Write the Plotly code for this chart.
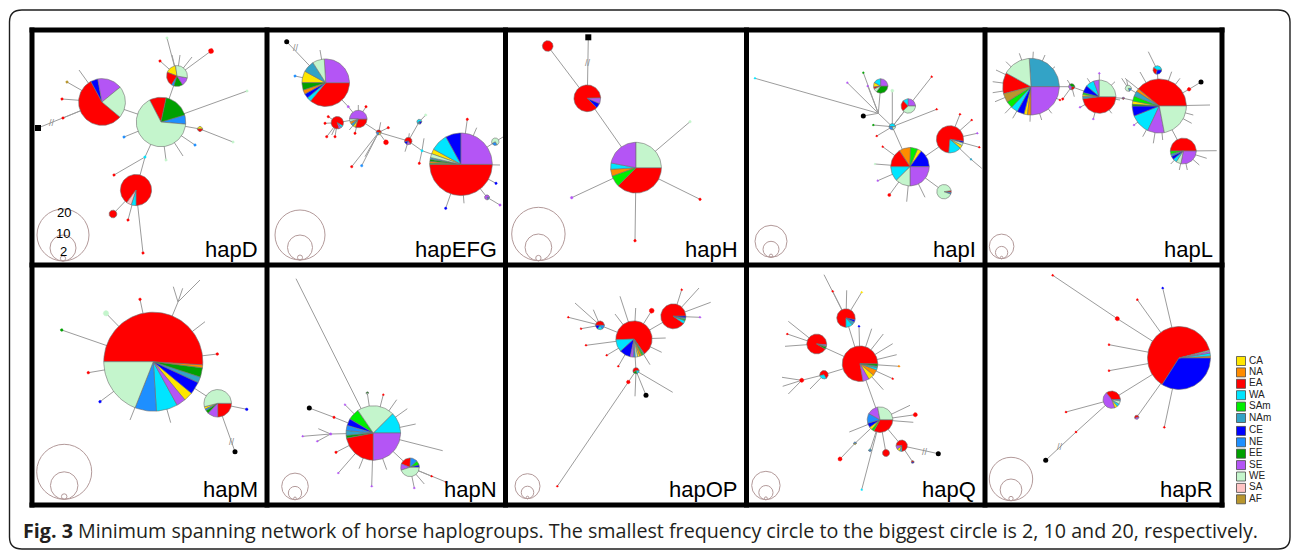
import math
import plotly.graph_objects as go

# ---------------- groups / legend ----------------
GROUPS = ["CA", "NA", "EA", "WA", "SAm", "NAm", "CE", "NE", "EE", "SE", "WE", "SA", "AF"]
GROUP_COLORS = {
    "CA": "#FFE600", "NA": "#FF8C00", "EA": "#FF0000", "WA": "#00E5FF",
    "SAm": "#00EE00", "NAm": "#33A3C6", "CE": "#0000FF", "NE": "#1E8FFF",
    "EE": "#00A000", "SE": "#B455F5", "WE": "#C4F5CC", "SA": "#FFC4C4",
    "AF": "#B8962E",
}
SCALE_FREQS = [20, 10, 2]
CAPTION_BOLD = "Fig. 3"
CAPTION_TEXT = ("Minimum spanning network of horse haplogroups. The smallest frequency circle "
                "to the biggest circle is 2, 10 and 20, respectively.")

# ---------------- network data (layout in figure pixels) ----------------
# node: x, y, frequency, composition "group:percent", start angle of first slice
hapD_nodes = [
    (102, 102, 18, "WE:22 SE:17 CE:5 EA:56", -40),
    (161, 122, 19, "NE:6 EE:17 EA:11 WE:66", -5),
    (177, 76, 8, "WE:30 CA:17 EA:22 NE:4 EE:14 SE:13", -10),
    (136, 190, 12, "EA:90 SA:5 WA:5", 270),
    (113, 214, 3, "EA:100", 0),
    (145, 157, 1, "WA:100", 0),
    (200, 129, 2, "CA:50 EA:50", 0),
]
hapD_edges = [(0, 1), (1, 2), (1, 5), (5, 3), (3, 4), (1, 6)]
hapD_tips = [
    (0, 62, 99, "EA", 1), (0, 67, 82, "AF", 1), (0, 79, 70, "", 0), (0, 63, 118, "EA", 1),
    (5, 114, 175, "EA", 1), (3, 128, 220, "EA", 1), (3, 143, 253, "EA", 1),
    (1, 247, 91, "WE", 1), (6, 233, 142, "WE", 1), (1, 195, 145, "NE", 1), (1, 183, 156, "", 0),
    (1, 166, 160, "WE", 1), (1, 124, 137, "NE", 1),
    (2, 167, 38, "WE", 1), (2, 180, 55, "", 0), (2, 192, 57, "", 0), (2, 211, 51, "EA", 2),
    (2, 160, 61, "EA", 1), (2, 172, 55, "", 0),
]
hapD_outgroup = (38, 128, 0, "square")
hapD_breaks = [(52, 123)]
hapD_scale = (37, 261, 26)

hapEFG_nodes = [
    (325.7, 82.7, 19, "SE:26 WE:8 NAm:8 CA:8 EE:5 NA:3 CE:3 WA:3 EA:36", 0),
    (461, 164.3, 25, "SE:25 CE:8 WA:9 CA:2.5 WE:2 NAm:1 EE:1 NA:1 SAm:0.5 EA:50", 0),
    (337.3, 122.7, 5, "EA:88 SE:6 WA:6", 330),
    (358.3, 119, 7, "SE:50 WE:5 NA:5 NAm:5 CA:5 EA:30", 0),
    (378.7, 132.3, 2, "EA:50 NE:25 CA:25", 0),
    (386, 142.3, 2, "EA:100", 0),
    (408.3, 141, 3, "EA:70 CE:15 SE:15", -60),
    (419.3, 121.7, 2, "WA:60 NAm:20 CE:20", 0),
    (422, 150.7, 1, "WA:100", 0),
    (495.3, 141.7, 3, "WE:75 NE:25", -60),
    (487, 197.3, 2, "SE:80 NE:20", 0),
    (348.3, 106.7, 1, "SE:100", 0),
]
hapEFG_edges = [(0, 11), (11, 3), (2, 3), (3, 4), (4, 5), (4, 6), (6, 7), (6, 8), (8, 1), (1, 9), (1, 10)]
hapEFG_tips = [
    (0, 320, 50, "", 0), (0, 295, 76, "NE", 1),
    (2, 328.3, 116.7, "EA", 1), (2, 325, 123.3, "EA", 1), (2, 326.7, 136.7, "EA", 1),
    (2, 331.7, 135, "", 0), (2, 335, 136.7, "EA", 1),
    (3, 358.3, 105, "", 0), (3, 366, 106.7, "EA", 1), (3, 349.3, 130, "", 0), (3, 355, 133.3, "EA", 1),
    (4, 351.7, 166.7, "EA", 1), (4, 361.7, 165.7, "NE", 1), (4, 365, 156.7, "", 0),
    (4, 380.7, 122.3, "", 0), (4, 388.3, 127.7, "EA", 1),
    (6, 405, 151.7, "", 0), (6, 409.3, 133.3, "", 0), (7, 425.7, 115, "WE", 1),
    (8, 419.3, 163.3, "EA", 1), (8, 424, 138.3, "", 0),
    (1, 467.3, 119.3, "EA", 1), (1, 476.7, 127.7, "", 0), (1, 500, 165, "", 0),
    (1, 496, 183.3, "CE", 1), (1, 464, 203.3, "", 0), (1, 445.7, 208.3, "CE", 1),
    (9, 503, 137, "", 0), (10, 500, 205, "SE", 1),
]
hapEFG_outgroup = (286.7, 41.7, 0, "circle")
hapEFG_breaks = [(296, 48)]
hapEFG_scale = (275, 260, 25)

hapH_nodes = [
    (547.7, 46, 4, "EA:100", 0),
    (587.3, 98.3, 10, "CE:6 SE:7 EA:87", -45),
    (636, 167.7, 19, "WE:25 SE:22 WA:4 NA:4.5 SAm:7 EA:37.5", 0),
]
hapH_edges = [(0, 1), (1, 2)]
hapH_tips = [(2, 690, 121.7, "WE", 1), (2, 571.7, 197.7, "SE", 1), (2, 700, 199.3, "EA", 1),
             (2, 635, 240.7, "EA", 1)]
hapH_outgroup = (588.3, 37.3, 1, "square")
hapH_breaks = [(588.3, 62.7)]
hapH_scale = (511.7, 260.7, 26.7)

hapI_nodes = [
    (910, 166.7, 24, "CE:15 CA:3.6 SAm:6 NA:9.7 EA:15.7 WA:12.5 WE:12.5 SE:25", 0),
    (950, 139.3, 17, "WA:15 CA:4 WE:3 CE:2 EA:76", -95),
    (944, 191.7, 9, "NE:4 EA:4 WE:92", -20),
    (880.7, 86, 9, "SE:25 WA:17 CA:10 EA:5 WE:8 EE:35", 0),
    (908.3, 106, 9, "SE:25 WA:12 EA:25 WE:38", 0),
    (892.3, 126.7, 4, "WA:50 NE:30 WE:20", 0),
    (878.3, 113.3, 0, "", 0),
    (892.3, 90.7, 2, "WE:100", 0),
    (889.3, 195, 2, "EA:100", 0),
    (971, 159.3, 1, "NAm:100", 0),
]
hapI_edges = [(6, 5), (5, 0), (0, 1), (0, 2), (5, 7), (5, 4), (0, 8), (1, 9), (3, 6)]
hapI_tips = [
    (6, 755, 78.3, "WA", 1), (6, 863.3, 72.7, "EE", 1), (6, 867.7, 86, "SE", 1), (6, 847.3, 82.7, "SE", 1),
    (5, 931.7, 76.7, "EA", 1), (5, 936.7, 109.3, "EA", 1), (5, 876.7, 136, "EA", 1), (5, 873.3, 125, "EE", 1),
    (9, 981.7, 168.3, "", 0),
    (0, 882.7, 146.7, "EA", 1), (0, 875, 164, "WE", 1), (0, 877.7, 180.7, "SE", 1),
    (0, 906.7, 201.7, "", 0), (0, 925, 197.3, "", 0),
    (1, 960, 114.3, "EA", 1), (1, 971.7, 120, "EA", 1), (1, 977.3, 133.3, "SE", 1), (1, 979.3, 147.3, "EA", 1),
]
hapI_outgroup = (863.3, 116, 6, "circle")
hapI_breaks = []
hapI_scale = (755, 257.3, 16)

hapL_nodes = [
    (1031, 86.7, 46, "NAm:26 WE:16 EA:12 AF:5 SAm:4 WA:4 CE:4 CA:2 NA:2 SE:25", 0),
    (1071.7, 86.7, 5, "EE:40 SE:30 EA:30", 0),
    (1099.3, 96.7, 27, "WE:25 SE:5.5 WA:8.5 CE:7 SAm:2 CA:2 NAm:2 EA:48", 0),
    (1123.3, 98.3, 2, "SE:50 EA:50", 0),
    (1128.3, 88.3, 5, "WE:80 NE:20", 0),
    (1159.3, 106, 44, "EA:39 NA:2 NAm:3 SAm:3 CA:2 EE:1 CE:6 WA:12 SE:10 WE:22", 0),
    (1183.3, 151, 21, "EA:50 SAm:4 NAm:3 CE:4 WA:5 WE:6 SE:28", 0),
    (1157.3, 70, 7, "WA:40 EA:30 CE:30", 0),
    (1189, 89.3, 3, "EA:100", 0),
]
hapL_edges = [(0, 1), (1, 2), (2, 3), (3, 5), (4, 5), (5, 6), (5, 7), (5, 8)]
hapL_tips = [
    (0, 1033.3, 51.7, "", 0), (0, 1019.3, 53.3, "", 0), (0, 1006, 61.7, "", 0), (0, 996, 70, "", 0),
    (0, 992.7, 81.7, "", 0), (0, 992.7, 92.7, "", 0), (0, 995, 101.7, "", 0), (0, 1005, 113.3, "", 0),
    (0, 1012.7, 118.3, "", 0), (0, 1030, 121.7, "", 0), (0, 1041.7, 120, "", 0), (0, 1051.7, 113.3, "", 0),
    (0, 1060, 100, "EA", 1), (0, 1055, 66.7, "", 0), (0, 1045, 55, "", 0),
    (2, 1099.3, 73.3, "SE", 1), (2, 1087.3, 78.3, "", 0), (2, 1080, 107.3, "SE", 1), (2, 1093.3, 119, "SE", 1),
    (2, 1111.7, 113.3, "", 0), (2, 1120, 100, "", 0), (2, 1115, 81.7, "", 0),
    (1, 1067.3, 80, "", 0), (1, 1062.7, 99, "EA", 2), (1, 1074.3, 96.7, "", 0),
    (5, 1125, 78.3, "", 0), (5, 1134, 125, "SE", 1), (5, 1142.7, 136.7, "", 0), (5, 1153.3, 143.3, "", 0),
    (5, 1162.7, 140, "", 0), (5, 1191.7, 123.3, "", 0), (5, 1193.3, 115, "", 0), (5, 1210, 105, "", 0),
    (5, 1180, 78.3, "", 0), (5, 1171.7, 71.7, "", 0), (5, 1140, 72, "", 0),
    (6, 1216.7, 150.7, "", 0), (6, 1206.7, 158.3, "", 0), (6, 1199.3, 165, "", 0),
    (6, 1187.3, 170, "", 0), (6, 1179.3, 170, "", 0), (6, 1170.7, 164, "", 0),
    (4, 1121.7, 78.3, "", 0), (4, 1126.7, 80, "", 0), (7, 1148.3, 51.7, "", 0),
]
hapL_outgroup = (1201, 82, 8, "circle")
hapL_breaks = []
hapL_scale = (989.3, 258.7, 12.3)

hapM_nodes = [
    (153.3, 361.7, 36, "WE:19 NE:7 WA:7 SE:3 CA:3 CE:4 NAm:2 EE:3 NA:1 EA:51", 180),
    (217.7, 403.3, 10, "WE:54 CA:3 NE:2 EE:4 SE:12 EA:25", 0),
    (106, 313.3, 2, "WE:100", 0),
    (178, 302, 0, "", 0),
]
hapM_edges = [(0, 1), (0, 2), (0, 3)]
hapM_tips = [
    (0, 61.7, 330, "EE", 1), (0, 88.3, 372.7, "EA", 1), (0, 100, 401.7, "CE", 1), (0, 130, 420, "", 0),
    (0, 170.7, 422.7, "", 0), (0, 140, 299.3, "EA", 1), (0, 205, 321.7, "", 0), (0, 217.3, 354, "EA", 1),
    (1, 246.7, 409.3, "CE", 1), (3, 200, 280, "", 0), (3, 173.3, 286.7, "", 0), (3, 182.7, 288.3, "", 0),
]
hapM_outgroup = (235, 451.7, 1, "circle")
hapM_breaks = [(231.7, 441.7)]
hapM_scale = (36.7, 499.3, 27.5)

hapN_nodes = [
    (373.3, 433, 41, "WA:12.5 WE:22 SAm:7 CE:4 NE:3 NAm:3 EE:1.5 EA:22 SE:25", 0),
    (410, 467.3, 14, "CE:4 SAm:8 NE:12 EA:20 SE:11 WE:45", 0),
    (367.3, 393, 2, "EE:50 WE:50", 0),
    (334, 417.3, 2, "EA:100", 0),
    (330.7, 434, 2, "SE:100", 0),
    (336, 452.3, 2, "EA:100", 0),
]
hapN_edges = [(0, 1), (0, 2), (0, 3), (0, 4), (0, 5)]
hapN_tips = [
    (0, 296, 278.7, "", 0), (0, 383.3, 394.7, "EA", 1), (0, 396.7, 399.7, "", 0), (0, 407.3, 408.7, "", 0),
    (0, 415.7, 424, "", 0), (0, 442.7, 450.7, "", 0), (0, 386.7, 469.7, "", 0), (0, 371.7, 486.3, "SE", 1),
    (0, 359, 468.7, "", 0), (0, 338.3, 473, "SE", 1), (0, 345, 404.7, "SE", 1),
    (4, 302.7, 436.3, "SE", 1), (4, 318.3, 428.7, "", 0), (4, 317.3, 441.3, "SE", 1),
    (1, 431.7, 476.3, "EA", 1), (1, 446, 482, "EA", 1), (1, 414.3, 488, "SE", 1), (1, 424.3, 484, "", 0),
]
hapN_outgroup = (309.3, 408, 3, "circle")
hapN_breaks = []
hapN_scale = (281.7, 499.7, 13.3)

hapOP_nodes = [
    (634, 339, 29, "EA:66 WA:11 CE:10 SE:2.5 NE:2 WE:2 CA:2 NA:2 SAm:1.5 NAm:1", -55),
    (673.3, 316.3, 20, "WA:4 SAm:2 NAm:2 CE:2 EA:90", -35),
    (600, 325.3, 7, "EA:50 CE:15 WA:20 NE:15", 0),
    (651.7, 310.7, 4, "EA:100", 0),
    (636, 370.7, 5, "EA:60 EE:20 WA:20", 0),
    (628.3, 382, 3, "EA:100", 0),
]
hapOP_edges = [(0, 1), (0, 2), (0, 3), (0, 4), (4, 5)]
hapOP_tips = [
    (5, 557.3, 486.3, "EA", 1), (4, 672.7, 392.3, "", 0), (4, 635, 396.3, "", 0),
    (0, 620, 296.3, "", 0), (0, 635.7, 308, "", 0), (0, 615, 314, "", 0), (0, 586, 345.3, "EA", 1),
    (0, 606.7, 355.3, "EA", 1), (0, 618.3, 366.3, "EA", 1), (0, 650, 364.7, "", 0),
    (0, 661.7, 352.3, "", 0), (0, 665.7, 338, "", 0),
    (2, 575, 303, "", 0), (2, 568.3, 317.3, "EA", 1), (2, 581, 328.7, "EA", 1), (2, 593.3, 309.7, "", 0),
    (1, 681.7, 289.7, "EA", 1), (1, 699, 288, "", 0), (1, 710.7, 302.3, "", 0), (1, 700, 317.3, "SE", 1),
]
hapOP_outgroup = (646, 395.3, 4, "circle")
hapOP_breaks = []
hapOP_scale = (515, 498.7, 12.5)

hapQ_nodes = [
    (860, 363.7, 25, "SE:5.5 CA:5.5 NA:5.5 WA:2 NAm:1.5 EE:2 EA:78", -80),
    (846, 318, 13, "WA:12 NAm:6 CE:4 EA:78", -90),
    (816.7, 344, 14, "EE:3 SAm:2 SE:2 EA:93", -30),
    (824, 374.7, 6, "EA:70 WA:30", -60),
    (801.7, 380.3, 3, "EA:100", 0),
    (880, 419.7, 18, "WE:28 SE:14 NE:12.5 CE:5.5 CA:4 SAm:3 EA:33", 0),
    (901.7, 445.7, 8, "EA:75 SE:10 CA:10 WA:5", -90),
    (886, 453, 5, "EA:100", 0),
    (915.3, 414.7, 3, "EA:100", 0),
    (840, 459, 3, "EA:100", 0),
    (855, 443.3, 2, "NE:50 CA:50", 0),
    (870, 450.3, 2, "WA:50 NE:50", 0),
    (912.7, 462, 2, "EA:60 CE:40", 0),
]
hapQ_edges = [(0, 1), (0, 2), (0, 3), (3, 4), (0, 5), (5, 6), (5, 7), (5, 8), (5, 10), (10, 9), (5, 11), (6, 12)]
hapQ_tips = [
    (0, 859, 326.3, "CE", 1), (0, 871.7, 328.7, "", 0), (0, 883.3, 334, "", 0), (0, 892.7, 343.7, "", 0),
    (0, 896.7, 354.7, "", 0), (0, 899, 366.3, "NA", 1), (0, 892.7, 378.7, "EA", 1), (0, 883.3, 389.7, "", 0),
    (1, 824, 274.7, "", 0), (1, 832.7, 291.3, "EA", 1), (1, 846.7, 290.3, "", 0), (1, 861.7, 292.3, "CA", 1),
    (2, 788.3, 321.3, "", 0), (2, 787.3, 334, "EA", 1), (2, 785, 346.3, "", 0),
    (4, 782, 377.3, "", 0), (4, 782.7, 386.3, "", 0), (4, 788.3, 394, "", 0), (3, 810, 389, "", 0),
    (5, 910, 405.3, "", 0), (5, 913.3, 422.3, "", 0), (5, 849.3, 432, "", 0), (5, 861.7, 489.7, "WA", 1),
]
hapQ_outgroup = (938.3, 453.7, 6, "circle")
hapQ_breaks = [(925, 451.5)]
hapQ_scale = (751.7, 499.7, 14.2)

hapR_nodes = [
    (1179, 358, 29, "NA:1 WA:1.5 SE:1 WE:0.5 EA:62 CE:34", 0),
    (1111.7, 399.7, 8, "CA:6 WA:5 WE:6 NE:3 EA:35 SE:45", -70),
    (1117.3, 318.7, 2, "EA:100", 0),
    (1136.7, 417.3, 2, "EA:60 SE:40", 0),
    (1076, 432, 1, "EA:100", 0),
]
hapR_edges = [(0, 2), (0, 1), (0, 3), (1, 4)]
hapR_tips = [
    (2, 1052.7, 275.3, "EA", 1), (0, 1162.7, 288, "CE", 1), (0, 1137.3, 299.7, "EA", 1),
    (0, 1109, 344.7, "EA", 1), (0, 1109, 370.7, "EA", 1), (0, 1164.3, 427.3, "EA", 1),
    (1, 1066, 412, "EA", 1),
]
hapR_outgroup = (1045.7, 460.3, 4, "circle")
hapR_breaks = [(1060, 447.3)]
hapR_scale = (989.3, 500.7, 21.7)

PANEL_NAMES = ["hapD", "hapEFG", "hapH", "hapI", "hapL", "hapM", "hapN", "hapOP", "hapQ", "hapR"]
PANELS = [
    (hapD_nodes, hapD_edges, hapD_tips, hapD_outgroup, hapD_breaks, hapD_scale),
    (hapEFG_nodes, hapEFG_edges, hapEFG_tips, hapEFG_outgroup, hapEFG_breaks, hapEFG_scale),
    (hapH_nodes, hapH_edges, hapH_tips, hapH_outgroup, hapH_breaks, hapH_scale),
    (hapI_nodes, hapI_edges, hapI_tips, hapI_outgroup, hapI_breaks, hapI_scale),
    (hapL_nodes, hapL_edges, hapL_tips, hapL_outgroup, hapL_breaks, hapL_scale),
    (hapM_nodes, hapM_edges, hapM_tips, hapM_outgroup, hapM_breaks, hapM_scale),
    (hapN_nodes, hapN_edges, hapN_tips, hapN_outgroup, hapN_breaks, hapN_scale),
    (hapOP_nodes, hapOP_edges, hapOP_tips, hapOP_outgroup, hapOP_breaks, hapOP_scale),
    (hapQ_nodes, hapQ_edges, hapQ_tips, hapQ_outgroup, hapQ_breaks, hapQ_scale),
    (hapR_nodes, hapR_edges, hapR_tips, hapR_outgroup, hapR_breaks, hapR_scale),
]

# ---------------- geometry / style ----------------
W, H = 1292, 552
GRID_X = [32, 267, 505.5, 746.5, 985, 1222]
GRID_Y = [30, 265, 505]
EDGE_COLOR = "#9c9c9c"
OUTLINE = "#6e6e6e"
SCALE_COLOR = "#b39a9a"


def parse(comp):
    out = []
    for tok in comp.split():
        g, v = tok.split(":")
        out.append((g, float(v)))
    return out


def arc(cx, cy, r, a0, a1, step=3.0):
    k = max(3, int(abs(a1 - a0) / step) + 1)
    xs, ys = [], []
    for i in range(k + 1):
        t = math.radians(a0 + (a1 - a0) * i / k)
        xs.append(cx + r * math.cos(t))
        ys.append(cy - r * math.sin(t))
    return xs, ys


poly = {g: ([], []) for g in GROUPS}
dots = {g: ([], []) for g in GROUPS}
ex, ey = [], []
out_sq = ([], [])
out_ci = ([], [])
shapes = []
annotations = []


def add_poly(store, g, xs, ys):
    store[g][0].extend(xs + [None])
    store[g][1].extend(ys + [None])


for (nodes, edges, tips, outg, breaks, scale) in PANELS:
    unit = scale[2] / SCALE_FREQS[0]
    for a, b in edges:
        ex.extend([nodes[a][0], nodes[b][0], None])
        ey.extend([nodes[a][1], nodes[b][1], None])
    for p, tx, ty, g, n in tips:
        ex.extend([nodes[p][0], tx, None])
        ey.extend([nodes[p][1], ty, None])
        if g and n > 0:
            xs, ys = arc(tx, ty, max(unit * n, 1.0), 0, 360, 30)
            add_poly(dots, g, xs, ys)
    ox, oy, op, sym = outg
    ex.extend([nodes[op][0], ox, None])
    ey.extend([nodes[op][1], oy, None])
    (out_sq if sym == "square" else out_ci)[0].append(ox)
    (out_sq if sym == "square" else out_ci)[1].append(oy)
    for x, y, n, comp, start in nodes:
        if n <= 0:
            continue
        r = unit * n
        parts = parse(comp)
        if len(parts) == 1:
            xs, ys = arc(x, y, max(r, 1.0), 0, 360, 6 if r < 6 else 3)
            store = dots if r < 3 else poly
            add_poly(store, parts[0][0], xs, ys)
            continue
        tot = sum(v for _, v in parts)
        a = start
        for g, v in parts:
            span = 360.0 * v / tot
            xs, ys = arc(x, y, r, a, a + span, 3.0)
            add_poly(poly, g, [x] + xs + [x], [y] + ys + [y])
            a += span
    for bx, by in breaks:
        annotations.append(dict(x=bx, y=by, xref="x", yref="y", text="//", showarrow=False,
                                font=dict(size=9, color="#888888", family="Liberation Sans")))
    # frequency scale circles
    left, bottom, _ = scale
    for f in SCALE_FREQS:
        r = unit * f
        shapes.append(dict(type="circle", xref="x", yref="y", x0=left + (scale[2] - r),
                           x1=left + scale[2] + r, y0=bottom - 2 * r, y1=bottom,
                           line=dict(color=SCALE_COLOR, width=1)))

fig = go.Figure()
fig.add_trace(go.Scatter(x=ex, y=ey, mode="lines", line=dict(color=EDGE_COLOR, width=1),
                         hoverinfo="skip"))
for g in GROUPS:
    xs, ys = poly[g]
    if xs:
        fig.add_trace(go.Scatter(x=xs, y=ys, mode="lines", fill="toself",
                                 fillcolor=GROUP_COLORS[g], line=dict(color=OUTLINE, width=0.6),
                                 name=g, hoverinfo="skip"))
for g in GROUPS:
    xs, ys = dots[g]
    if xs:
        fig.add_trace(go.Scatter(x=xs, y=ys, mode="lines", fill="toself",
                                 fillcolor=GROUP_COLORS[g], line=dict(color=GROUP_COLORS[g], width=0.4),
                                 name=g, hoverinfo="skip"))
fig.add_trace(go.Scatter(x=out_sq[0], y=out_sq[1], mode="markers",
                         marker=dict(symbol="square", size=6, color="black"), hoverinfo="skip"))
fig.add_trace(go.Scatter(x=out_ci[0], y=out_ci[1], mode="markers",
                         marker=dict(symbol="circle", size=5, color="black"), hoverinfo="skip"))

# legend
LEG_X = 1241
leg_y = []
for i, g in enumerate(GROUPS):
    leg_y.append(361 + i * 11.4 + (1.5 if i >= 6 else 0))
fig.add_trace(go.Scatter(x=[LEG_X] * len(GROUPS), y=leg_y, mode="markers",
                         marker=dict(symbol="square", size=9, color=[GROUP_COLORS[g] for g in GROUPS],
                                     line=dict(color="#4a4a4a", width=0.8)), hoverinfo="skip"))
fig.add_trace(go.Scatter(x=[1249] * len(GROUPS), y=leg_y, mode="text", text=GROUPS,
                         textposition="middle right", hoverinfo="skip",
                         textfont=dict(size=10, color="#222222", family="Liberation Sans, Arial")))

# panel borders
for gx in GRID_X:
    shapes.append(dict(type="line", xref="x", yref="y", x0=gx, x1=gx, y0=GRID_Y[0] - 2.5,
                       y1=GRID_Y[-1] + 2.5, line=dict(color="black", width=5)))
for gy in GRID_Y:
    shapes.append(dict(type="line", xref="x", yref="y", x0=GRID_X[0] - 2.5, x1=GRID_X[-1] + 2.5,
                       y0=gy, y1=gy, line=dict(color="black", width=5)))

# outer rounded frame
shapes.append(dict(type="path", xref="x", yref="y",
                   path="M 22,10 L 1278,10 Q 1290,10 1290,22 L 1290,537 Q 1290,549 1278,549 "
                        "L 22,549 Q 9.5,549 9.5,537 L 9.5,22 Q 9.5,10 22,10 Z",
                   line=dict(color="#1e1e1e", width=1.4)))

# panel labels
for i, name in enumerate(PANEL_NAMES):
    row, col = divmod(i, 5)
    annotations.append(dict(x=GRID_X[col + 1] - 7, y=GRID_Y[row + 1] - 15.5, xref="x", yref="y",
                            text=name, showarrow=False, xanchor="right", yanchor="middle",
                            font=dict(size=22, color="black", family="Liberation Sans, Arial")))

# scale labels (first panel)
for f, lx, ly in zip(SCALE_FREQS, [64.3, 62.7, 63.3], [212.5, 233.5, 251.5]):
    annotations.append(dict(x=lx, y=ly, xref="x", yref="y", text=str(f), showarrow=False,
                            borderpad=0,
                            font=dict(size=13, color="black", family="Liberation Sans, Arial")))

# caption
annotations.append(dict(x=21, y=530, xref="x", yref="y", xanchor="left", yanchor="middle",
                        text=f"<b>{CAPTION_BOLD}</b> {CAPTION_TEXT}", showarrow=False,
                        font=dict(size=19.7, color="#231f20", family="Open Sans")))

fig.update_layout(width=W, height=H, margin=dict(l=0, r=0, t=0, b=0),
                  paper_bgcolor="white", plot_bgcolor="white", showlegend=False,
                  shapes=shapes, annotations=annotations)
fig.update_xaxes(range=[0, W], visible=False, fixedrange=True)
fig.update_yaxes(range=[H, 0], visible=False, fixedrange=True)
fig.write_html("out.html", config={"displayModeBar": False},
               post_script="document.body.style.margin='0px';")
